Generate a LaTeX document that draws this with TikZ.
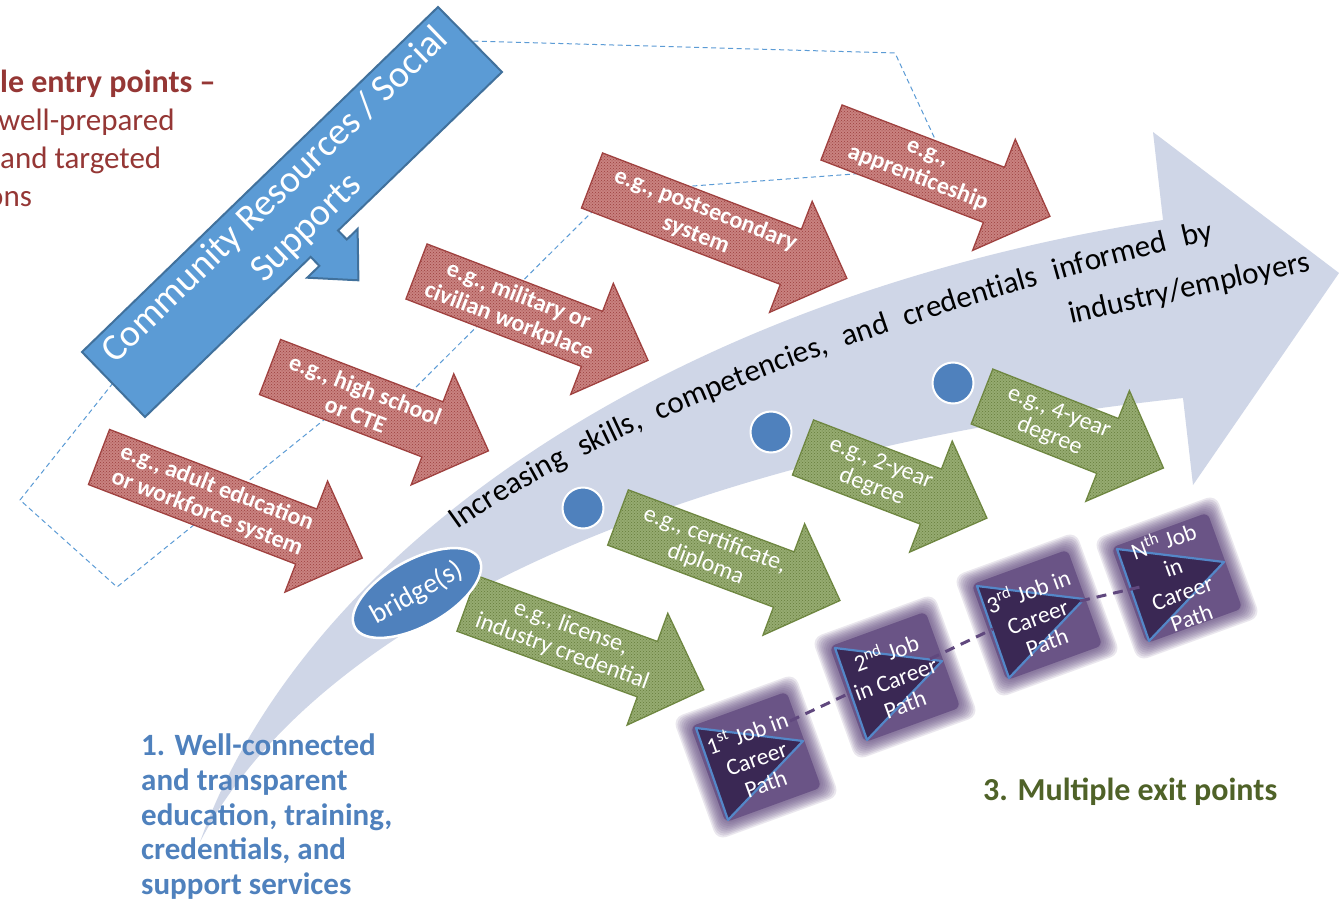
\documentclass[tikz,border=0pt]{standalone}
\usepackage{fontspec}
\setmainfont{Carlito}
\usetikzlibrary{shapes.geometric,decorations.text,patterns}
\definecolor{bandfill}{RGB}{207,214,231}
\definecolor{commfill}{RGB}{91,155,213}
\definecolor{commline}{RGB}{65,113,156}
\definecolor{dashblue}{RGB}{91,155,213}
\definecolor{redfill}{RGB}{201,130,128}
\definecolor{reddots}{RGB}{155,62,60}
\definecolor{redline}{RGB}{160,66,64}
\definecolor{grnfill}{RGB}{150,171,113}
\definecolor{grndots}{RGB}{100,124,58}
\definecolor{grnline}{RGB}{112,136,66}
\definecolor{circblue}{RGB}{79,129,189}
\definecolor{jobpurple}{RGB}{96,72,126}
\definecolor{tridark}{RGB}{58,40,84}
\definecolor{triline}{RGB}{84,135,200}
\definecolor{redlabel}{RGB}{149,55,53}
\definecolor{bluelabel}{RGB}{79,129,189}
\definecolor{greenlabel}{RGB}{79,98,40}

% block arrow: name, x, y (middle of tail), angle, length, arrow style, text style, text
\newcommand{\blkarrow}[8]{%
  \begin{scope}[shift={(#2,#3)},rotate=#4]
    \path[#6] (0,-29.5) -- ({#5-60},-29.5) -- ({#5-60},-59.5) -- (#5,0) -- ({#5-60},59.5) -- ({#5-60},29.5) -- (0,29.5) -- cycle;
    \node[#7,rotate=#4] (#1) at ({(#5-40)/2},0) {#8};
  \end{scope}}

% job box: name, x, y, text
\newcommand{\jobbox}[4]{%
  \begin{scope}[shift={(#2,#3)}]
    \foreach \sz in {65,63.5,62,60.5,59,57.5,56,54.5,53}{%
      \fill[jobpurple,opacity=0.13,rotate=20,rounded corners=10pt] (-\sz,-\sz) rectangle (\sz,\sz);}
    \fill[jobpurple,opacity=0.75,rotate=20,rounded corners=6pt] (-51,-51) rectangle (51,51);
    \filldraw[jobtri] (-60,-29) -- (47,-16) -- (-28,63) -- cycle;
    \node[jobtxt,rotate=20] (#1) at (0,0) {#4};
  \end{scope}}

\begin{document}
\begin{tikzpicture}[x=1pt,y=-1pt,
  redarr/.style={fill=redfill,draw=redline,line width=1.3pt,postaction={pattern=crosshatch dots,pattern color=reddots}},
  grnarr/.style={fill=grnfill,draw=grnline,line width=1.3pt,postaction={pattern=crosshatch dots,pattern color=grndots}},
  redtxt/.style={text=white,font=\fontsize{24}{27}\selectfont\bfseries,align=center,inner sep=0pt},
  grntxt/.style={text=white,font=\fontsize{24}{26}\selectfont,align=center,inner sep=0pt},
  dashline/.style={draw=dashblue,line width=1pt,dash pattern=on 5pt off 3.5pt},
  bluedot/.style={circle,fill=circblue,draw=white,line width=2pt,minimum size=41pt,inner sep=0pt},
  jobtxt/.style={text=white,font=\fontsize{23.5}{27}\selectfont,align=center,inner sep=0pt},
  jobdash/.style={draw=jobpurple,line width=3pt,dash pattern=on 10pt off 7pt},
  jobtri/.style={fill=tridark,draw=triline,line width=2.2pt,line join=round},
  commtxt/.style={rotate=44,text=white,font=\fontsize{38}{46}\selectfont,inner sep=0pt},
  bandtxt/.style={font=\fontsize{31}{31}\selectfont,inner sep=0pt},
  redlbl/.style={anchor=base west,inner sep=0pt,text=redlabel,font=\fontsize{31}{38}\selectfont},
  bluelbl/.style={anchor=base west,inner sep=0pt,text=bluelabel,font=\fontsize{31}{35}\selectfont\bfseries},
  grnlbl/.style={anchor=base west,inner sep=0pt,text=greenlabel,font=\fontsize{32}{38}\selectfont\bfseries}
]
\useasboundingbox (0,0) rectangle (1339,902);
\fill[white] (0,0) rectangle (1339,902);

% big curved arrow
\fill[bandfill] (200,842) .. controls (300,560) and (650,300) .. (1163,220) -- (1153,132) -- (1339,273) -- (1193,485) -- (1183,398) .. controls (700,450) and (320,610) .. (200,842) -- cycle;

% dashed outline
\draw[dashline] (113,383) -- (20,500) -- (117,587) -- (330,415) -- (405,398) -- (612,192) -- (948,167) -- (895,53) -- (472,41);

% community resources arrow
\filldraw[fill=commfill,draw=commline,line width=2pt,line join=miter] (82,352) -- (438,7) -- (502,72) -- (338.1,230.5) -- (346.8,239.5) -- (357.6,229) -- (358.4,280.3) -- (307.2,277.7) -- (319.4,265.9) -- (310.7,256.9) -- (145,417) -- cycle;
\node[commtxt] (comm1) at (275.5,195.5) {Community Resources / Social};
\node[commtxt] (comm2) at (307.5,228.5) {Supports};

% entry arrows (red)
\blkarrow{r1}{99}{457}{-21}{282}{redarr}{redtxt}{e.g., adult education\\or workforce system}
\blkarrow{r2}{270}{367}{-21}{234}{redarr}{redtxt}{e.g., high school\\or CTE}
\blkarrow{r3}{416.5}{271.5}{-21}{248}{redarr}{redtxt}{e.g., military or\\civilian workplace}
\blkarrow{r4}{592}{180.5}{-21}{273}{redarr}{redtxt}{e.g., postsecondary\\system}
\blkarrow{r5}{831.5}{132.5}{-21}{234}{redarr}{redtxt}{e.g.,\\apprenticeship}

% exit arrows (green)
\blkarrow{g1}{467}{603.5}{-20}{252}{grnarr}{grntxt}{e.g., license,\\industry credential}
\blkarrow{g2}{618}{517.5}{-20.5}{237}{grnarr}{grntxt}{e.g., certificate,\\diploma}
\blkarrow{g3}{803}{447.5}{-21}{197}{grnarr}{grntxt}{e.g., 2-year\\degree}
\blkarrow{g4}{982}{396.5}{-21.5}{195}{grnarr}{grntxt}{e.g., 4-year\\degree}

% dots and bridge
\node[bluedot] (c1) at (583,508) {};
\node[bluedot] (c2) at (771,432) {};
\node[bluedot] (c3) at (953,383) {};
\node[ellipse,fill=circblue,draw=white,line width=2.5pt,minimum width=128pt,minimum height=66pt,rotate=29,text=white,font=\fontsize{28}{28}\selectfont,inner sep=0pt] (bridge) at (417,593) {bridge(s)};

% text along the band
\path[decorate,decoration={text along path,text align={fit to path stretching spaces},
  text={|\fontsize{31}{31}\selectfont|Increasing skills, competencies, and credentials informed by}}]
  (458,530) .. controls (579,442) and (872,319) .. (1213,240);
\node[bandtxt,rotate=12.5,anchor=base] (band2) at (1191,297) {industry/employers};

% job boxes
\coordinate (p1) at (790,721);
\coordinate (p2) at (852,692);
\coordinate (p3) at (930,659);
\coordinate (p4) at (993,629);
\coordinate (p5) at (1080,601);
\coordinate (p6) at (1140,587);
\jobbox{j1}{756}{757}{1\textsuperscript{st} Job in\\Career\\Path}
\jobbox{j2}{895}{677}{2\textsuperscript{nd} Job\\in Career\\Path}
\jobbox{j3}{1037}{615}{3\textsuperscript{rd} Job in\\Career\\Path}
\jobbox{j4}{1177}{578}{N\textsuperscript{th} Job\\in\\Career\\Path}
\draw[jobdash] (p1) -- (p2);
\draw[jobdash] (p3) -- (p4);
\draw[jobdash] (p5) -- (p6);

% labels
\node[redlbl,font=\fontsize{32}{38}\selectfont\bfseries] (e1) at (0,92) {le entry points –};
\node[redlbl] (e2) at (-2,130) {well-prepared};
\node[redlbl] (e3) at (0,168) {and targeted};
\node[redlbl] (e4) at (-13,206) {ons};

\node[bluelbl] (w1) at (141,755) {1. Well-connected};
\node[bluelbl] (w2) at (141,790) {and transparent};
\node[bluelbl] (w3) at (141,825) {education, training,};
\node[bluelbl] (w4) at (141,859) {credentials, and};
\node[bluelbl] (w5) at (141,894) {support services};

\node[grnlbl] (x1) at (983,800) {3. Multiple exit points};
\end{tikzpicture}
\end{document}
